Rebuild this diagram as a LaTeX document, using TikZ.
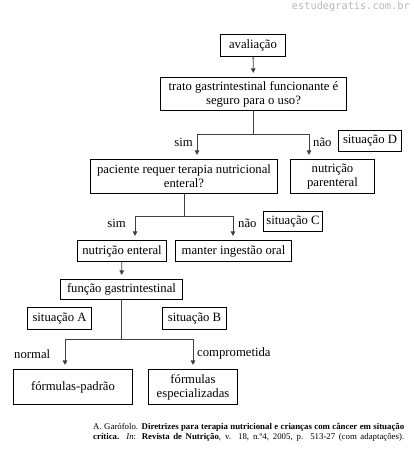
\documentclass[tikz,border=0pt]{standalone}
\usepackage{fontspec}
\setmainfont{Liberation Serif}
\newfontfamily\wmfont{DejaVu Sans Mono}
\usetikzlibrary{arrows.meta, positioning}
\tikzset{
  %% Flowchart box
  flux/.style={
    rectangle, draw=black, fill=white,
    line width=1.2pt, align=center, inner sep=1pt,
    font=\fontsize{12.7}{14}\selectfont
  },
  %% Branch label
  lbl/.style={font=\fontsize{12.7}{14}\selectfont, inner sep=1pt},
  %% Plain line
  link/.style={draw=black!75, line width=0.8pt},
  %% Arrow
  arr/.style={-{Triangle[length=4.5pt,width=4.5pt]},
              draw=black!75, line width=0.8pt, shorten >=4pt},
}
\begin{document}
\begin{tikzpicture}[x=1pt, y=-1pt]

  \path[use as bounding box, fill=white] (0,0) rectangle (414,455);

  %% Watermark
  \node[font=\wmfont\fontsize{10.3}{11}\selectfont, text=black!28,
        anchor=east, inner sep=0pt] (wm) at (410,7) {estudegratis.com.br};

  %% Top level
  \node[flux, minimum width=65pt, minimum height=22pt] (aval) at (253,45.5)
        {avaliação};
  \node[flux, minimum width=186pt, minimum height=33pt] (trato) at (253.5,94)
        {trato gastrintestinal funcionante é\\seguro para o uso?};
  \node[flux, minimum width=63pt, minimum height=21pt] (sitD) at (370,141)
        {situação D};

  %% Second level
  \node[flux, minimum width=187pt, minimum height=34pt] (pac) at (184,176.5)
        {paciente requer terapia nutricional\\enteral?};
  \node[flux, minimum width=84pt, minimum height=34pt] (par) at (332.5,176.5)
        {nutrição\\parenteral};
  \node[flux, minimum width=59pt, minimum height=20pt] (sitC) at (293,221.5)
        {situação C};

  %% Third level
  \node[flux, minimum width=89pt, minimum height=21pt] (nent) at (122,251)
        {nutrição enteral};
  \node[flux, minimum width=116pt, minimum height=21pt] (oral) at (233.5,251)
        {manter ingestão oral};
  \node[flux, minimum width=122pt, minimum height=20pt] (fgi) at (121.5,289.5)
        {função gastrintestinal};
  \node[flux, minimum width=64pt, minimum height=22pt] (sitA) at (59.5,318.5)
        {situação A};
  \node[flux, minimum width=64pt, minimum height=22pt] (sitB) at (194.5,318.5)
        {situação B};

  %% Formulas
  \node[flux, minimum width=119pt, minimum height=35pt] (padrao) at (73,387)
        {fórmulas-padrão};
  \node[flux, minimum width=89pt, minimum height=35pt] (espec) at (193,387)
        {fórmulas\\especializadas};

  %% Junctions
  \coordinate (j1l) at (197,134);  \coordinate (j1r) at (309,134);
  \coordinate (j2l) at (135,216);  \coordinate (j2r) at (233,216);
  \coordinate (j3l) at (65,339);   \coordinate (j3r) at (193,339);

  %% Connectors
  \draw[arr] (aval) -- (trato);
  \draw[link] (trato.south) -- (trato.south |- j1l);
  \draw[link] (j1l) -- (j1r);
  \draw[arr] (j1l) -- (j1l |- pac.north);
  \draw[arr] (j1r) -- (j1r |- par.north);

  \draw[link] (pac.south) -- (pac.south |- j2l);
  \draw[link] (j2l) -- (j2r);
  \draw[arr] (j2l) -- (j2l |- nent.north);
  \draw[arr] (j2r) -- (j2r |- oral.north);

  \draw[arr] (nent) -- (fgi);
  \draw[link] (fgi.south) -- (fgi.south |- j3l);
  \draw[link] (j3l) -- (j3r);
  \draw[arr] (j3l) -- (j3l |- padrao.north);
  \draw[arr] (j3r) -- (j3r |- espec.north);

  %% Branch labels
  \node[lbl, anchor=east] (sim1) at (194,142) {sim};
  \node[lbl, anchor=west] (nao1) at (312,142) {não};
  \node[lbl, anchor=east] (sim2) at (127,223) {sim};
  \node[lbl, anchor=west] (nao2) at (237,223) {não};
  \node[lbl, anchor=west] (norm) at (13,354) {normal};
  \node[lbl, anchor=west] (comp) at (196,353) {comprometida};

  %% Source
  \node[anchor=north west, inner sep=0pt, align=left,
        font=\fontsize{8.8}{10}\selectfont] (src) at (93,423.5)
    {\makebox[311pt][s]{A. Garófolo. \textbf{Diretrizes para terapia
      nutricional e crianças com câncer em situação}}\\
     \makebox[311pt][s]{\textbf{crítica.} \textit{In}: \textbf{Revista de
      Nutrição}, v. 18, n.º4, 2005, p. 513-27 (com adaptações).}};

\end{tikzpicture}
\end{document}
